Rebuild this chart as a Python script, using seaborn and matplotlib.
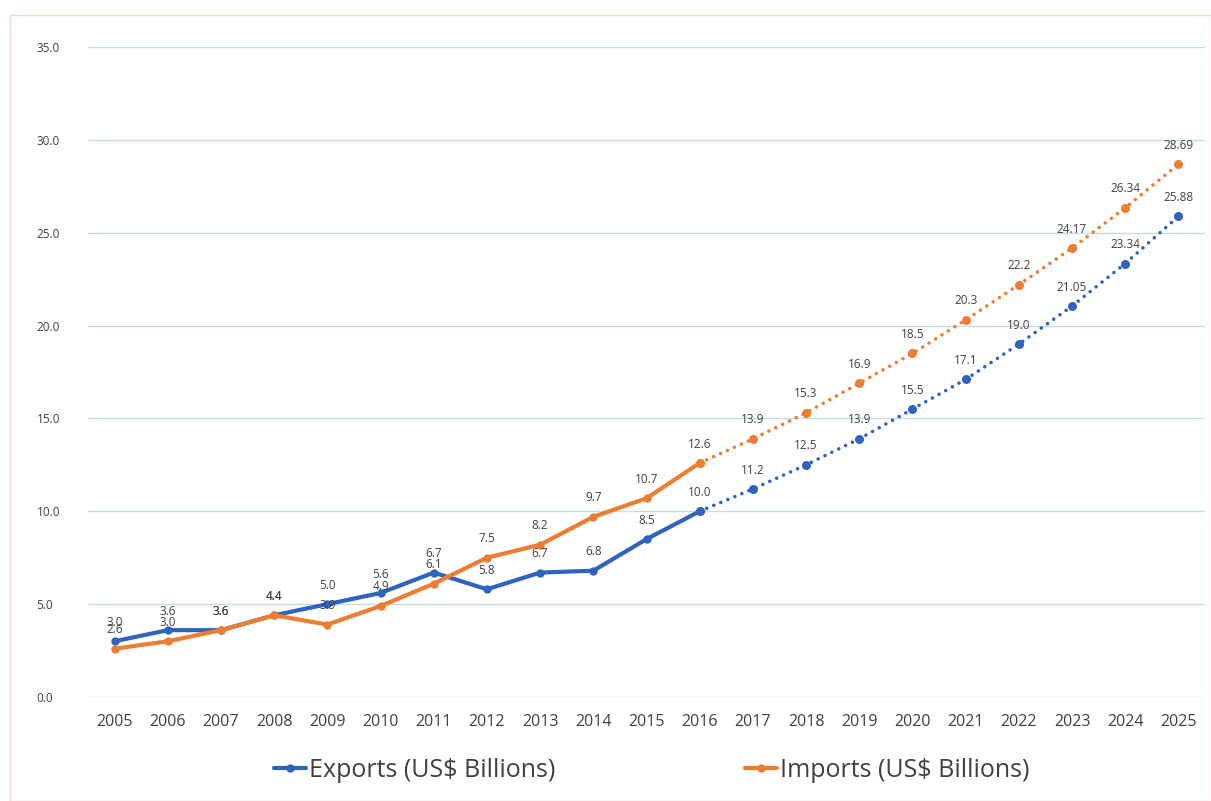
import matplotlib
matplotlib.use("Agg")
import matplotlib.pyplot as plt
import seaborn as sns
import pandas as pd
from matplotlib.lines import Line2D
from matplotlib.patches import Rectangle

years = list(range(2005, 2026))
exports = [3.0, 3.6, 3.6, 4.4, 5.0, 5.6, 6.7, 5.8, 6.7, 6.8, 8.5, 10.0,
           11.2, 12.5, 13.9, 15.5, 17.1, 19.0, 21.05, 23.34, 25.88]
imports = [2.6, 3.0, 3.6, 4.4, 3.9, 4.9, 6.1, 7.5, 8.2, 9.7, 10.7, 12.6,
           13.9, 15.3, 16.9, 18.5, 20.3, 22.2, 24.17, 26.34, 28.69]
export_labels = ["3.0", "3.6", "3.6", "4.4", "5.0", "5.6", "6.7", "5.8", "6.7", "6.8", "8.5", "10.0",
                 "11.2", "12.5", "13.9", "15.5", "17.1", "19.0", "21.05", "23.34", "25.88"]
import_labels = ["2.6", "3.0", "3.6", "4.4", "3.9", "4.9", "6.1", "7.5", "8.2", "9.7", "10.7", "12.6",
                 "13.9", "15.3", "16.9", "18.5", "20.3", "22.2", "24.17", "26.34", "28.69"]
last_actual = 2016
series_names = ["Exports (US$ Billions)", "Imports (US$ Billions)"]
y_ticks = [0, 5, 10, 15, 20, 25, 30, 35]

BLUE = "#2f63c0"
ORANGE = "#ed7d31"
TEXT = "#404040"

sns.set_theme(style="white")
plt.rcParams['font.family'] = ['Open Sans', 'DejaVu Sans']

df = pd.DataFrame({"year": years, "Exports": exports, "Imports": imports})
actual = df[df.year <= last_actual]
proj = df[df.year >= last_actual]

fig = plt.figure(figsize=(12.11, 8.01), dpi=100)
ax = fig.add_axes([88 / 1211, 1 - 697 / 801, (1205 - 88) / 1211, (697 - 47) / 801])

for col, color in [("Exports", BLUE), ("Imports", ORANGE)]:
    sns.lineplot(data=actual, x="year", y=col, ax=ax, color=color, linewidth=3,
                 marker="o", markersize=6, markeredgewidth=0)
    sns.lineplot(data=proj, x="year", y=col, ax=ax, color=color, linewidth=2.6,
                 linestyle=(0, (0.01, 2.1)), dash_capstyle="round",
                 marker="o", markersize=6.5, markeredgewidth=0)

for yr, v, lab in zip(years, exports, export_labels):
    ax.annotate(lab, (yr, v), xytext=(0, 9), textcoords="offset points",
                ha="center", va="bottom", fontsize=8.5, color=TEXT)
for yr, v, lab in zip(years, imports, import_labels):
    ax.annotate(lab, (yr, v), xytext=(0, 9), textcoords="offset points",
                ha="center", va="bottom", fontsize=8.5, color=TEXT)

ax.set_xlim(2004.5, 2025.5)
ax.set_ylim(0, 35)
ax.set_yticks(y_ticks)
ax.set_yticklabels([f"{t:.1f}" for t in y_ticks], fontsize=8.5, color=TEXT)
ax.set_xticks(years)
ax.set_xticklabels([str(y) for y in years], fontsize=11.5, color=TEXT)
ax.tick_params(axis="x", length=0, pad=12)
ax.tick_params(axis="y", length=0, pad=37)
for lbl in ax.get_yticklabels():
    lbl.set_horizontalalignment("left")
ax.grid(axis="y", color="#c6dcdf", linewidth=1)
ax.set_axisbelow(True)
for s in ax.spines.values():
    s.set_visible(False)
ax.set_xlabel("")
ax.set_ylabel("")

handles = [Line2D([0], [0], color=BLUE, lw=3, marker="o", markersize=5),
           Line2D([0], [0], color=ORANGE, lw=3, marker="o", markersize=5)]
leg = fig.legend(handles, series_names, loc="center", bbox_to_anchor=(0.538, 0.038),
                 ncol=2, frameon=False, fontsize=18, columnspacing=7.6,
                 handlelength=1.3, handletextpad=0.1)
for t in leg.get_texts():
    t.set_color(TEXT)

fig.patches.append(Rectangle((10 / 1211, 0), 1 - 10 / 1211, 1 - 15 / 801,
                             transform=fig.transFigure, fill=False,
                             edgecolor="#f3d9cf", linewidth=1))

fig.savefig("out.png", dpi=100)
